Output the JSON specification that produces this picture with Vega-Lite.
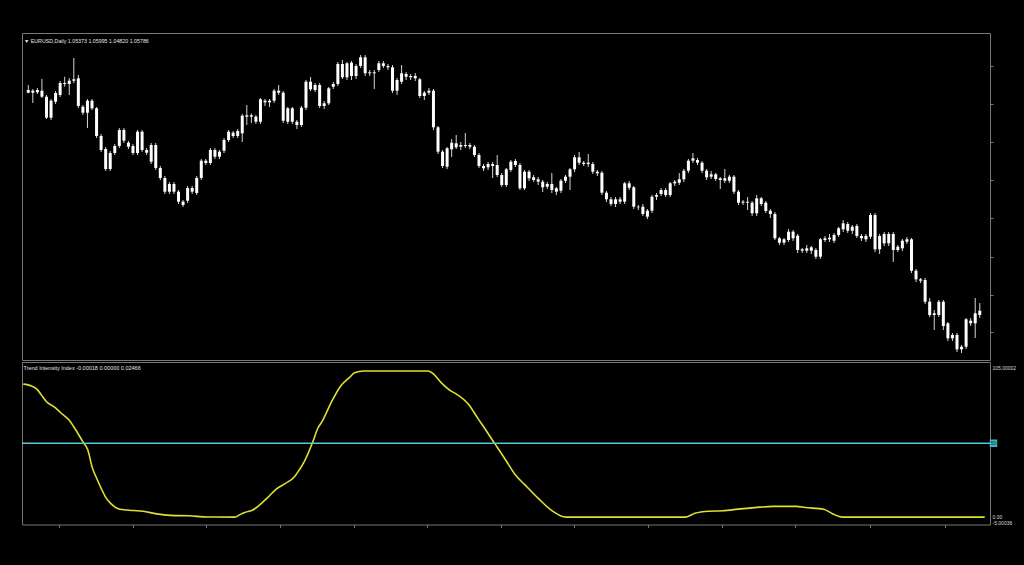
{
"$schema": "https://vega.github.io/schema/vega-lite/v6.json",
"background": "#000000",
"padding": {"left": 19, "top": 32, "right": 9, "bottom": 40.5},
"spacing": 0,
"config": {"view": {"stroke": "#777777", "strokeWidth": 1}, "font": "Liberation Sans"},
"datasets": {
"eurusd": [
{"i":0,"o":307.3,"h":315,"l":306.7,"c":310},{"i":1,"o":309.3,"h":311,"l":297,"c":307.3},{"i":2,"o":307.7,"h":312,"l":306,"c":310},{"i":3,"o":309.3,"h":321,"l":302,"c":303.3},{"i":4,"o":303.3,"h":305,"l":281,"c":282.3},{"i":5,"o":299.3,"h":301,"l":280,"c":282.3},{"i":6,"o":298.3,"h":309,"l":296,"c":307},{"i":7,"o":305,"h":319,"l":303,"c":317},{"i":8,"o":316,"h":323.3,"l":313.3,"c":317},{"i":9,"o":316,"h":322,"l":305,"c":319.3},
{"i":10,"o":319.3,"h":342,"l":317,"c":320.7},{"i":11,"o":321.7,"h":325,"l":292,"c":294},{"i":12,"o":293.3,"h":295,"l":285,"c":287.3},{"i":13,"o":287.3,"h":301,"l":272,"c":299.3},{"i":14,"o":291.7,"h":301,"l":290,"c":299.3},{"i":15,"o":291.7,"h":293,"l":262,"c":264},{"i":16,"o":264,"h":266,"l":248,"c":250},{"i":17,"o":251,"h":253,"l":229,"c":231},{"i":18,"o":247,"h":249,"l":229,"c":231},{"i":19,"o":247,"h":256,"l":245,"c":254},
{"i":20,"o":254,"h":272,"l":252,"c":270},{"i":21,"o":259.3,"h":272,"l":257,"c":270},{"i":22,"o":257.3,"h":259,"l":251,"c":253.3},{"i":23,"o":254,"h":256,"l":245,"c":247},{"i":24,"o":247,"h":270,"l":245,"c":268.3},{"i":25,"o":250,"h":270,"l":248,"c":268.3},{"i":26,"o":250,"h":252,"l":245,"c":247.3},{"i":27,"o":255,"h":257,"l":236,"c":238.3},{"i":28,"o":255,"h":257,"l":230,"c":232},{"i":29,"o":232,"h":234,"l":220,"c":222},
{"i":30,"o":222,"h":224,"l":206,"c":208.3},{"i":31,"o":216,"h":218,"l":206,"c":208.3},{"i":32,"o":208.3,"h":218,"l":206,"c":216},{"i":33,"o":208.3,"h":210,"l":196,"c":198.3},{"i":34,"o":198.3,"h":200,"l":193,"c":195},{"i":35,"o":199.3,"h":214,"l":197,"c":212},{"i":36,"o":208.3,"h":214,"l":206,"c":212},{"i":37,"o":207,"h":224,"l":205,"c":222},{"i":38,"o":222,"h":241,"l":220,"c":239.3},{"i":39,"o":237,"h":241,"l":235,"c":239.3},
{"i":40,"o":237,"h":252,"l":235,"c":250},{"i":41,"o":243.3,"h":252,"l":241,"c":250},{"i":42,"o":248.3,"h":250,"l":241,"c":243.3},{"i":43,"o":249.3,"h":262,"l":247,"c":260},{"i":44,"o":260,"h":270,"l":258,"c":268.3},{"i":45,"o":264,"h":269,"l":262,"c":267.3},{"i":46,"o":264,"h":271,"l":262,"c":269},{"i":47,"o":266.7,"h":286,"l":258,"c":284.3},{"i":48,"o":283.3,"h":295,"l":275,"c":284.7},{"i":49,"o":284.7,"h":286.5,"l":277,"c":283.3},
{"i":50,"o":283.3,"h":285,"l":276,"c":278.3},{"i":51,"o":278.3,"h":302,"l":276,"c":300.7},{"i":52,"o":297.7,"h":301,"l":294,"c":299.3},{"i":53,"o":299.3,"h":301,"l":293,"c":297.7},{"i":54,"o":299.3,"h":311,"l":297,"c":309.3},{"i":55,"o":307.3,"h":315,"l":305,"c":309.3},{"i":56,"o":307.3,"h":309,"l":277,"c":279.3},{"i":57,"o":291.7,"h":293,"l":276,"c":278.3},{"i":58,"o":278.3,"h":293,"l":276,"c":291.7},{"i":59,"o":278.3,"h":280,"l":271,"c":275},
{"i":60,"o":275,"h":294,"l":273,"c":292.3},{"i":61,"o":292.3,"h":320,"l":290,"c":318.3},{"i":62,"o":310.7,"h":323,"l":309,"c":318.3},{"i":63,"o":315,"h":317,"l":308,"c":310},{"i":64,"o":315,"h":317,"l":292,"c":294},{"i":65,"o":296.7,"h":299,"l":291,"c":294},{"i":66,"o":296.7,"h":313,"l":295,"c":311.7},{"i":67,"o":313.3,"h":318,"l":311,"c":316},{"i":68,"o":316,"h":338,"l":314,"c":336},{"i":69,"o":322.7,"h":340,"l":321,"c":336},
{"i":70,"o":322.7,"h":338,"l":320,"c":336.7},{"i":71,"o":324,"h":339,"l":320,"c":337.3},{"i":72,"o":334,"h":336,"l":321,"c":324},{"i":73,"o":334,"h":345,"l":332,"c":342.7},{"i":74,"o":342.7,"h":345,"l":324,"c":326.7},{"i":75,"o":327.7,"h":330,"l":324,"c":326.7},{"i":76,"o":326.7,"h":330,"l":311,"c":327.7},{"i":77,"o":330,"h":339,"l":328,"c":336.7},{"i":78,"o":334,"h":339,"l":332,"c":336.7},{"i":79,"o":334,"h":336,"l":330,"c":332.7},
{"i":80,"o":332.7,"h":335,"l":307,"c":309.3},{"i":81,"o":320,"h":322,"l":305,"c":309.3},{"i":82,"o":318.3,"h":335,"l":316,"c":326.7},{"i":83,"o":323.3,"h":328,"l":320,"c":326},{"i":84,"o":324,"h":326,"l":320,"c":322.7},{"i":85,"o":324,"h":327,"l":319,"c":321.7},{"i":86,"o":320.7,"h":322,"l":302,"c":304},{"i":87,"o":307.3,"h":309,"l":300,"c":304},{"i":88,"o":307.3,"h":312,"l":305,"c":309.3},{"i":89,"o":309.3,"h":311,"l":270,"c":272.7},
{"i":90,"o":272.7,"h":274,"l":246,"c":248.3},{"i":91,"o":248.3,"h":250,"l":232,"c":234},{"i":92,"o":233.3,"h":253,"l":231,"c":251.7},{"i":93,"o":250.7,"h":261,"l":243,"c":257.3},{"i":94,"o":252.7,"h":265,"l":251,"c":256.7},{"i":95,"o":255,"h":258,"l":250,"c":253.3},{"i":96,"o":254,"h":267,"l":252,"c":255},{"i":97,"o":255,"h":257,"l":251,"c":253.3},{"i":98,"o":253.3,"h":255,"l":243,"c":245},{"i":99,"o":245,"h":247,"l":232,"c":234},
{"i":100,"o":234,"h":236,"l":229,"c":231.7},{"i":101,"o":232.7,"h":238,"l":230,"c":236},{"i":102,"o":234,"h":238,"l":222,"c":236},{"i":103,"o":235,"h":245,"l":223,"c":225},{"i":104,"o":225,"h":227,"l":213,"c":215},{"i":105,"o":215,"h":232,"l":213,"c":230.7},{"i":106,"o":230,"h":240,"l":228,"c":238.3},{"i":107,"o":235,"h":241,"l":233,"c":239},{"i":108,"o":235,"h":237,"l":210,"c":211.7},{"i":109,"o":228.3,"h":230,"l":210,"c":211.7},
{"i":110,"o":221.7,"h":230,"l":219,"c":228.3},{"i":111,"o":222.7,"h":225,"l":218,"c":220},{"i":112,"o":220.7,"h":223,"l":215,"c":218.3},{"i":113,"o":218.3,"h":220,"l":208,"c":212.7},{"i":114,"o":216,"h":218,"l":211,"c":213.3},{"i":115,"o":216,"h":227,"l":207,"c":210},{"i":116,"o":211.7,"h":213,"l":205,"c":208.3},{"i":117,"o":209.3,"h":221,"l":207,"c":219.3},{"i":118,"o":219.3,"h":225,"l":217,"c":223.3},{"i":119,"o":223.3,"h":232,"l":210,"c":230.7},
{"i":120,"o":230.7,"h":245,"l":228,"c":242.7},{"i":121,"o":237.3,"h":248,"l":235,"c":242.7},{"i":122,"o":237.3,"h":239,"l":234,"c":236},{"i":123,"o":236,"h":246,"l":233,"c":237.3},{"i":124,"o":236,"h":238,"l":226,"c":228.3},{"i":125,"o":228.3,"h":230,"l":224,"c":226.7},{"i":126,"o":227.3,"h":229,"l":205,"c":207.3},{"i":127,"o":207.3,"h":209,"l":198,"c":200.7},{"i":128,"o":200.7,"h":203,"l":194,"c":196},{"i":129,"o":196,"h":203,"l":193,"c":200.7},
{"i":130,"o":198.3,"h":203,"l":196,"c":200.7},{"i":131,"o":198.3,"h":218,"l":196,"c":216.7},{"i":132,"o":212.3,"h":219,"l":210,"c":216.7},{"i":133,"o":212.7,"h":214,"l":191,"c":193.3},{"i":134,"o":193.3,"h":195,"l":190,"c":192.7},{"i":135,"o":193.3,"h":196,"l":184,"c":186},{"i":136,"o":189.3,"h":191,"l":181,"c":183.3},{"i":137,"o":189.3,"h":205,"l":187,"c":203.3},{"i":138,"o":203.3,"h":207,"l":200,"c":205},{"i":139,"o":206,"h":212,"l":204,"c":210},
{"i":140,"o":210,"h":212,"l":203,"c":205},{"i":141,"o":205,"h":218,"l":203,"c":216.7},{"i":142,"o":216.7,"h":220,"l":214,"c":218.3},{"i":143,"o":217.3,"h":227,"l":215,"c":220.7},{"i":144,"o":220.7,"h":231,"l":218,"c":229.3},{"i":145,"o":229.3,"h":241,"l":227,"c":239.3},{"i":146,"o":239.3,"h":247,"l":237,"c":241.7},{"i":147,"o":240,"h":242,"l":235,"c":237.3},{"i":148,"o":237.3,"h":239,"l":227,"c":229.3},{"i":149,"o":229.3,"h":231,"l":220,"c":222.7},
{"i":150,"o":225.7,"h":229,"l":221,"c":223.3},{"i":151,"o":225.7,"h":227,"l":219,"c":221},{"i":152,"o":221.7,"h":223,"l":211,"c":220},{"i":153,"o":221.7,"h":231,"l":217,"c":219.3},{"i":154,"o":219.3,"h":225,"l":217,"c":223.3},{"i":155,"o":223.3,"h":225,"l":206,"c":208.3},{"i":156,"o":208.3,"h":210,"l":195,"c":197.3},{"i":157,"o":198.3,"h":200,"l":195,"c":197.3},{"i":158,"o":197.3,"h":203,"l":190,"c":198.3},{"i":159,"o":197.3,"h":199,"l":184,"c":186.7},
{"i":160,"o":186.7,"h":205,"l":184,"c":201.7},{"i":161,"o":196,"h":203,"l":194,"c":201.7},{"i":162,"o":197.3,"h":199,"l":187,"c":189},{"i":163,"o":189.3,"h":191,"l":182,"c":186},{"i":164,"o":186,"h":188,"l":160,"c":161.7},{"i":165,"o":161.7,"h":163,"l":155,"c":157.3},{"i":166,"o":160.7,"h":162,"l":155,"c":157.3},{"i":167,"o":160,"h":171,"l":158,"c":168.3},{"i":168,"o":161.7,"h":170,"l":159,"c":168.3},{"i":169,"o":164.3,"h":166,"l":147,"c":150},
{"i":170,"o":150.7,"h":152,"l":147,"c":149.3},{"i":171,"o":149.3,"h":155,"l":147,"c":151.7},{"i":172,"o":149.3,"h":154,"l":146,"c":152.7},{"i":173,"o":150,"h":152,"l":141,"c":143.3},{"i":174,"o":143.3,"h":162,"l":141,"c":160.7},{"i":175,"o":160,"h":164,"l":158,"c":161.7},{"i":176,"o":160.7,"h":166,"l":158,"c":162.3},{"i":177,"o":159.3,"h":167,"l":157,"c":165},{"i":178,"o":165,"h":173,"l":163,"c":171.7},{"i":179,"o":170.7,"h":180,"l":168,"c":176.7},
{"i":180,"o":176,"h":178,"l":167,"c":169.3},{"i":181,"o":173.3,"h":175,"l":166,"c":169.3},{"i":182,"o":174,"h":176,"l":162,"c":164},{"i":183,"o":164,"h":166,"l":159,"c":161.7},{"i":184,"o":164,"h":166,"l":158,"c":160.7},{"i":185,"o":163.3,"h":187,"l":161,"c":185},{"i":186,"o":185,"h":187,"l":148,"c":150.7},{"i":187,"o":150.7,"h":166,"l":146,"c":164},{"i":188,"o":156.7,"h":168,"l":154,"c":166},{"i":189,"o":166,"h":168,"l":154,"c":156.7},
{"i":190,"o":166,"h":168,"l":138,"c":150},{"i":191,"o":153.3,"h":155,"l":148,"c":150},{"i":192,"o":151.7,"h":161,"l":149,"c":159.3},{"i":193,"o":158.3,"h":163,"l":156,"c":160.7},{"i":194,"o":160.7,"h":162,"l":127,"c":129.3},{"i":195,"o":129.3,"h":131,"l":118,"c":120.7},{"i":196,"o":120.7,"h":122,"l":117,"c":119.3},{"i":197,"o":120,"h":122,"l":96,"c":98.3},{"i":198,"o":98.3,"h":102,"l":83,"c":85},{"i":199,"o":86.7,"h":90,"l":70,"c":85},
{"i":200,"o":85,"h":100,"l":83,"c":98.3},{"i":201,"o":98.3,"h":100,"l":70,"c":74},{"i":202,"o":76.7,"h":78,"l":59,"c":61.7},{"i":203,"o":65,"h":67,"l":59,"c":61.7},{"i":204,"o":65,"h":67,"l":48,"c":50.7},{"i":205,"o":53.3,"h":55,"l":47,"c":50.7},{"i":206,"o":53.3,"h":82,"l":51,"c":80.7},{"i":207,"o":76.7,"h":82,"l":74,"c":79.3},{"i":208,"o":76.7,"h":102,"l":62,"c":86.7},{"i":209,"o":85,"h":97,"l":82,"c":89.3}
],
"tii": [
{"i":0,"v":90},{"i":1,"v":89.5},{"i":2,"v":88.5},{"i":3,"v":86.5},{"i":4,"v":82.4},{"i":5,"v":78.3},{"i":7,"v":74},{"i":8,"v":71},{"i":10,"v":65.5},{"i":11,"v":61},{"i":13,"v":50.8},{"i":14,"v":45.7},{"i":15,"v":33.5},{"i":16,"v":26},{"i":17,"v":19},{"i":18,"v":13},{"i":19,"v":9.3},{"i":21,"v":5.3},{"i":24,"v":4.5},{"i":26,"v":4},{"i":29,"v":2.2},{"i":32,"v":1.2},{"i":36,"v":0.9},{"i":40,"v":0.1},{"i":46,"v":0},{"i":47,"v":1.5},{"i":48,"v":3},{"i":50,"v":5},{"i":52,"v":10},{"i":53,"v":12.8},{"i":55,"v":19},{"i":57,"v":22.8},{"i":59,"v":27.5},{"i":60,"v":32},{"i":61,"v":37},{"i":63,"v":51.5},{"i":64,"v":60},{"i":65,"v":65},{"i":67,"v":78},{"i":69,"v":88.8},{"i":71,"v":94.8},{"i":72,"v":97.7},{"i":74,"v":98.9},{"i":88,"v":98.9},{"i":89,"v":97.3},{"i":91,"v":90.5},{"i":93,"v":85.3},{"i":94,"v":83.6},{"i":97,"v":75.5},{"i":98,"v":70.8},{"i":99,"v":66},{"i":100,"v":61.5},{"i":102,"v":52},{"i":103,"v":47.5},{"i":105,"v":38},{"i":107,"v":28.5},{"i":109,"v":22},{"i":112,"v":12.5},{"i":115,"v":4.2},{"i":118,"v":0},{"i":144,"v":0},{"i":146,"v":2.6},{"i":149,"v":4},{"i":152,"v":4.3},{"i":156,"v":5.6},{"i":159,"v":6.4},{"i":163,"v":7.3},{"i":168,"v":7.3},{"i":170,"v":6.5},{"i":174,"v":5.3},{"i":176,"v":2.1},{"i":178,"v":0},{"i":209,"v":0}
]
},
"vconcat": [
{
"width": 968, "height": 327,
"layer": [
{"data": {"name": "eurusd"},
 "mark": {"type": "rule", "color": "#d6d6d6", "strokeWidth": 1},
 "encoding": {"x": {"field": "i", "type": "quantitative", "scale": {"domain": [-0.28, 210.15], "nice": false, "zero": false}, "axis": null},
  "y": {"field": "l", "type": "quantitative", "scale": {"domain": [40, 367], "nice": false, "zero": false}, "axis": {"orient": "right", "values": [68, 105, 143, 182, 220, 258, 296, 334], "labels": false, "ticks": true, "tickSize": 3, "tickColor": "#777777", "domain": false, "grid": false, "title": null}}, "y2": {"field": "h"}}},
{"data": {"name": "eurusd"},
 "mark": {"type": "bar", "width": 3, "color": "#ffffff"},
 "encoding": {"x": {"field": "i", "type": "quantitative", "axis": null},
  "y": {"field": "o", "type": "quantitative", "axis": {"orient": "right", "values": [68, 105, 143, 182, 220, 258, 296, 334], "labels": false, "ticks": true, "tickSize": 3, "tickColor": "#777777", "domain": false, "grid": false, "title": null}}, "y2": {"field": "c"}}},
{"data": {"values": [{"label": "▼ EURUSD,Daily  1.05373 1.05995 1.04820 1.05786"}]},
 "mark": {"type": "text", "align": "left", "baseline": "middle", "dx": -3, "dy": 7.7, "fontSize": 5.3, "font": "Liberation Sans", "color": "#e6e6e6"},
 "encoding": {"x": {"datum": -0.28}, "y": {"datum": 367}, "text": {"field": "label"}}}
]
},
{
"width": 968, "height": 162.5,
"layer": [
{"data": {"name": "tii"},
 "mark": {"type": "line", "color": "#e0e030", "strokeWidth": 1.6, "interpolate": "monotone"},
 "encoding": {
  "x": {"field": "i", "type": "quantitative", "scale": {"domain": [-0.28, 210.15], "nice": false, "zero": false}, "axis": {"orient": "bottom", "values": [7.8,15.8,23.8,31.8,39.8,47.8,55.8,63.8,71.8,79.8,87.8,95.8,103.8,111.8,119.8,127.8,135.8,143.8,151.8,159.8,167.8,175.8,184,193.2,200.4,208.6], "labels": false, "ticks": true, "tickSize": 3, "tickColor": "#777777", "domain": false, "grid": false, "title": null}},
  "y": {"field": "v", "type": "quantitative", "scale": {"domain": [-5.00036, 105.00002], "nice": false, "zero": false}, "axis": {"orient": "right", "values": [-5.00036, 0, 105.00002], "labelExpr": "datum.value > 100 ? '105.00002' : (datum.value < -1 ? '-5.00036' : '0.00')", "labelFontSize": 5, "labelFont": "Liberation Sans", "labelColor": "#d8d8d8", "labelPadding": 2, "labelAlign": "left", "labelBaseline": "middle", "labelOverlap": false, "labelFlush": false, "labelOffset": {"condition": [{"test": "datum.value > 100", "value": 5.3}, {"test": "datum.value < -1", "value": -2.3}], "value": -0.8}, "ticks": false, "domain": false, "grid": false, "title": null}}
 }},
{"data": {"values": [{}]},
 "mark": {"type": "rule", "color": "#52c9d3", "strokeWidth": 1.5},
 "encoding": {"y": {"datum": 50}}},
{"data": {"values": [{}]},
 "mark": {"type": "point", "shape": "square", "filled": true, "size": 56, "color": "#3fb7c0", "opacity": 1},
 "encoding": {"x": {"datum": 210.9}, "y": {"datum": 50}}},
{"data": {"values": [{}]},
 "mark": {"type": "text", "text": "50", "fontSize": 5, "color": "#0b2b2e", "font": "Liberation Sans"},
 "encoding": {"x": {"datum": 210.9}, "y": {"datum": 50}}},
{"data": {"values": [{"label": "Trend Intensity Index -0.00018 0.00000 0.02466"}]},
 "mark": {"type": "text", "align": "left", "baseline": "middle", "dx": 1.5, "dy": 5.7, "fontSize": 5.5, "font": "Liberation Sans", "color": "#e6e6e6"},
 "encoding": {"x": {"datum": -0.28}, "y": {"datum": 105.00002}, "text": {"field": "label"}}}
]
}
]
}
